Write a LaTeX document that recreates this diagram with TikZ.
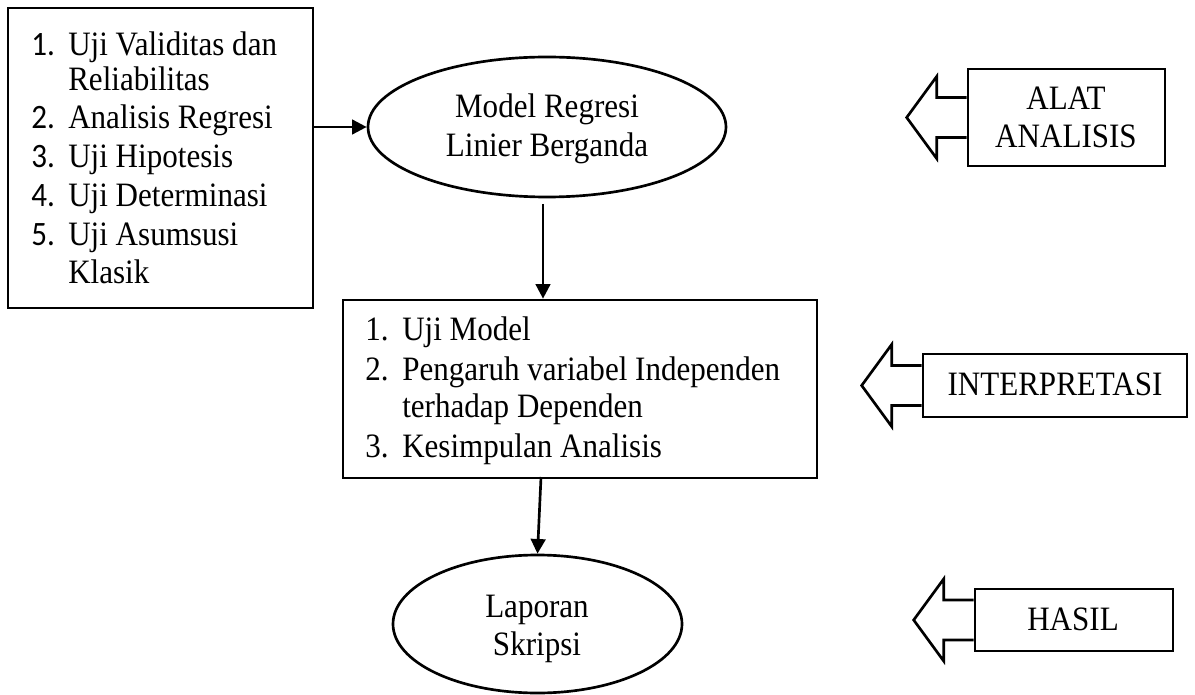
\documentclass[tikz,border=0pt]{standalone}
\usepackage{fontspec}
\usepackage{graphicx}
\setmainfont{Liberation Serif}
\newfontfamily\numfont{Carlito}
\newcommand\tallt[1]{\scalebox{1}[1.1]{#1}}
\usetikzlibrary{arrows.meta,calc,shapes.geometric}
\begin{document}
\begin{tikzpicture}[x=0.75pt,y=-0.75pt,
  box/.style={draw,line width=2pt,inner sep=0pt},
  oval/.style={draw,ellipse,line width=2pt,inner sep=0pt},
  txt/.style={anchor=base west,inner sep=0pt,font=\fontsize{23.3pt}{28pt}\selectfont},
  num/.style={anchor=base west,inner sep=0pt,font=\numfont\fontsize{23.3pt}{28pt}\selectfont},
  ctxt/.style={anchor=base,inner sep=0pt,font=\fontsize{23.3pt}{28pt}\selectfont},
  arr/.style={line width=2pt,-{Triangle[length=11pt,width=11pt]}},
  blockarrow/.style={draw,line width=2pt,line join=miter}]
\useasboundingbox (0,0) rectangle (1195,695);

% left box
\node[box,minimum width=228.75pt,minimum height=225pt] (L) at (160.5,158) {};
\node[num] (L1n) at (31,56) {\tallt{1.}};  \node[txt] (L1) at (68,56) {\tallt{Uji Validitas dan}};
\node[txt] (L1b) at (68,91) {\tallt{Reliabilitas}};
\node[num] (L2n) at (31,129) {\tallt{2.}}; \node[txt] (L2) at (68,129) {\tallt{Analisis Regresi}};
\node[num] (L3n) at (31,168) {\tallt{3.}}; \node[txt] (L3) at (68,168) {\tallt{Uji Hipotesis}};
\node[num] (L4n) at (31,207) {\tallt{4.}}; \node[txt] (L4) at (68,207) {\tallt{Uji Determinasi}};
\node[num] (L5n) at (31,246) {\tallt{5.}}; \node[txt] (L5) at (68,246) {\tallt{Uji Asumsusi}};
\node[txt] (L5b) at (68,283) {\tallt{Klasik}};

% ellipse 1
\node[oval,minimum width=268.5pt,minimum height=105pt] (E1) at (547,127) {};
\node[ctxt] (E1a) at (547,118) {\tallt{Model Regresi}};
\node[ctxt] (E1b) at (547,157) {\tallt{Linier Berganda}};

% middle box
\node[box,minimum width=355.5pt,minimum height=133.5pt] (M) at (580,389) {};
\node[txt] (M1n) at (365,340) {\tallt{1.}}; \node[txt] (M1) at (402,340) {\tallt{Uji Model}};
\node[txt] (M2n) at (365,380) {\tallt{2.}}; \node[txt] (M2) at (402,380) {\tallt{Pengaruh variabel Independen}};
\node[txt] (M2b) at (402,417) {\tallt{terhadap Dependen}};
\node[txt] (M3n) at (365,457) {\tallt{3.}}; \node[txt] (M3) at (402,457) {\tallt{Kesimpulan Analisis}};

% ellipse 2
\node[oval,minimum width=216.75pt,minimum height=103.5pt] (E2) at (537.5,624) {};
\node[ctxt] (E2a) at (537,617) {\tallt{Laporan}};
\node[ctxt] (E2b) at (537,655) {\tallt{Skripsi}};

% right boxes
\node[box,minimum width=147.75pt,minimum height=72.75pt] (A) at (1066.5,117.5) {};
\node[ctxt] (Aa) at (1066,110) {\tallt{ALAT}};
\node[ctxt] (Ab) at (1066,148) {\tallt{ANALISIS}};
\node[box,minimum width=198pt,minimum height=47.25pt] (I) at (1055,385.5) {};
\node[ctxt] (Ia) at (1055,395) {\tallt{INTERPRETASI}};
\node[box,minimum width=148.5pt,minimum height=46.5pt] (H) at (1074,620) {};
\node[ctxt] (Ha) at (1073,630) {\tallt{HASIL}};

% block arrows
\foreach \b in {A,I,H}{
  \draw[blockarrow] ($(\b.west)+(0,-20)$) -- ++(-30,0) -- ++(0,-21) -- ++(-30,41)
     -- ++(30,41) -- ++(0,-21) -- ($(\b.west)+(0,20)$);
}

% connectors
\draw[arr] (L.east |- E1.west) -- (E1.west);
\coordinate (c2) at (543,204);
\draw[arr] (c2) -- (c2 |- M.north);
\coordinate (c3) at (541,477);
\draw[arr] (c3) -- (E2.north);
\end{tikzpicture}
\end{document}
